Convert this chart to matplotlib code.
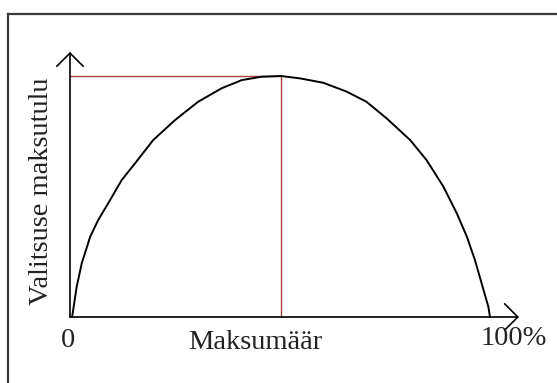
import matplotlib
matplotlib.use("Agg")
import matplotlib.pyplot as plt
from matplotlib.lines import Line2D

# === DATA ===
maksumaar = [0.5, 1.6, 2.8, 4.8, 6.7, 9.1, 12.3, 15.5, 19.8, 25.0, 30.5, 36.1, 40.9, 45.6, 50.2,
             54.8, 60.3, 65.9, 70.6, 75.4, 81.0, 84.9, 88.9, 92.1, 94.5, 96.4, 98.0, 99.6, 100]
maksutulu = [0, 12.6, 22.3, 33.3, 40.2, 47.2, 56.8, 63.8, 73.4, 81.7, 89.3, 94.9, 98.3, 99.7, 100,
             99.0, 97.2, 93.5, 89.3, 82.4, 73.4, 65.1, 54.1, 43.0, 33.3, 23.7, 14.0, 4.3, 0]
tipp_x = 50.3
tipp_y = 100

W, H = 557, 383
fig = plt.figure(figsize=(W / 100, H / 100), dpi=100)
fig.patch.set_facecolor("white")

# raam (alleen links en boven zichtbaar)
fig.add_artist(Line2D([8 / W, 8 / W], [0, 1 - 14 / H], color="#3a3a3a", lw=1.6))
fig.add_artist(Line2D([8 / W, 1], [1 - 14 / H, 1 - 14 / H], color="#3a3a3a", lw=1.6))

ax = fig.add_axes([70 / W, 1 - 317 / H, 420 / W, 241 / H])
ax.set_xlim(0, 100)
ax.set_ylim(0, 100)
ax.axis("off")

# assen met pijlen
pijl = dict(arrowstyle="->,head_length=0.95,head_width=0.95", lw=1.2, color="black",
            shrinkA=0, shrinkB=0, mutation_scale=10)
ax.annotate("", xy=(106.9, 0), xytext=(0, 0), arrowprops=pijl, annotation_clip=False)
ax.annotate("", xy=(0, 110), xytext=(0, 0), arrowprops=pijl, annotation_clip=False)

# rode hulplijnen
rood = "#b04040"
ax.plot([0, tipp_x], [tipp_y, tipp_y], color=rood, lw=1.0, clip_on=False)
ax.plot([tipp_x, tipp_x], [0, tipp_y], color=rood, lw=1.0, clip_on=False)

# Laffer-curve
ax.plot(maksumaar, maksutulu, color="black", lw=1.4, clip_on=False,
        solid_joinstyle="round")

font = dict(family="Liberation Serif", size=20.5, color="#222222")
ax.text(-0.4, -12.4, "0", ha="center", va="baseline", **font)
ax.text(44.2, -13.3, "Maksumäär", ha="center", va="baseline", **font)
ax.text(105.7, -11.6, "100%", ha="center", va="baseline", **font)
ax.text(-6.7, 52.3, "Valitsuse maksutulu", ha="center", va="center", rotation=90, **font)

plt.savefig("out.png", dpi=100)
